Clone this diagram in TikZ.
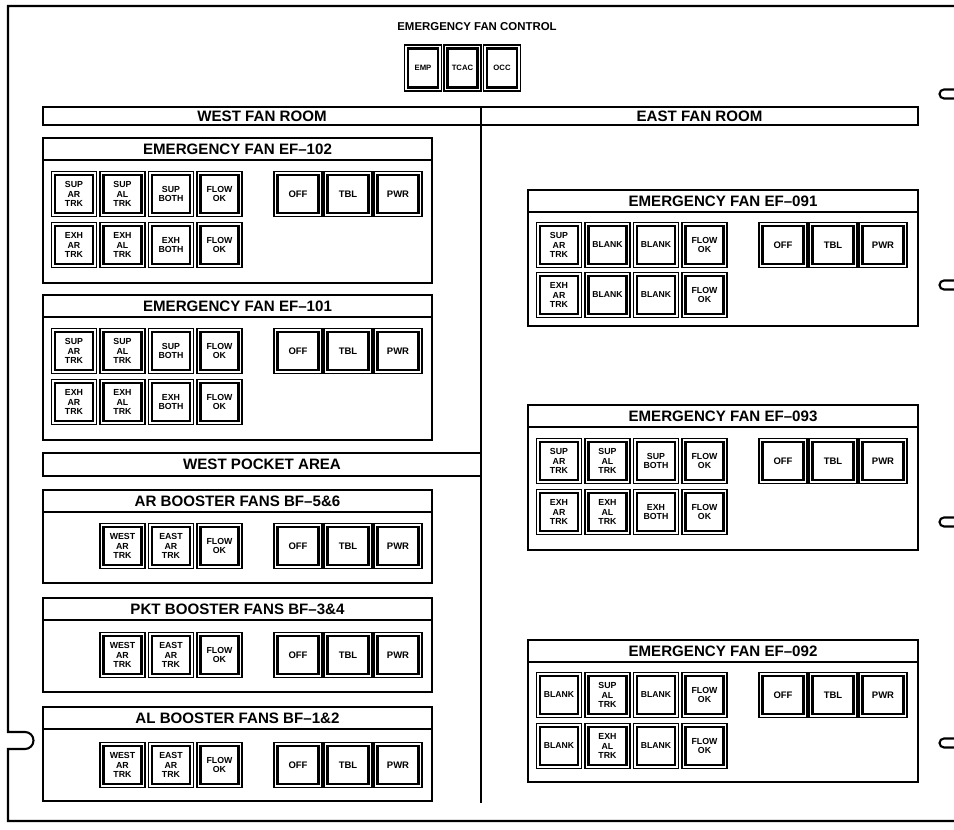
\documentclass[tikz,border=0pt]{standalone}
\usepackage{fontspec}
\setmainfont{Liberation Sans}

\tikzset{
  wall/.style={line width=1.2pt},
  heading/.style={inner sep=0pt, font=\fontsize{8.6}{9}\selectfont\bfseries},
  btn/.style={draw, line width=0.7pt, inner sep=0pt, minimum width=0.9cm, minimum height=0.9cm},
  btn in/.style={draw, line width=1.2pt, inner sep=0pt, minimum width=0.76cm, minimum height=0.76cm,
    align=center, font=\fontsize{5}{5.4}\selectfont\bfseries},
  wbtn/.style={btn, minimum width=0.96cm},
  wbtn in/.style={btn in, minimum width=0.82cm, font=\fontsize{5.4}{6}\selectfont\bfseries},
  topbtn/.style={btn, minimum width=0.74cm, minimum height=0.92cm},
  topbtn in/.style={btn in, minimum width=0.6cm, minimum height=0.78cm, font=\fontsize{4.4}{5}\selectfont\bfseries},
}

\begin{document}
\begin{tikzpicture}[x=0.02cm, y=-0.02cm]
\useasboundingbox (0,0) rectangle (954,830);

% --- Button: outer frame + inner frame with label ---
\def\fanbtn#1#2#3#4{%
  \node[#1] (#2) at #3 {};
  \node[#1 in] (#2-in) at (#2) {#4};
}

% --- Panel with header strip ---
\def\fanpanel#1#2#3#4{%
  \draw[wall] (0,0) rectangle (#2,#3);
  \draw[wall] (0,22) -- (#2,22);
  \node[heading] (#1) at ({#2/2},11) {#4};
}

% --- OFF / TBL / PWR group ---
\def\ctrlrow#1#2{%
  \foreach \lab [count=\i] in {OFF,TBL,PWR}
    {\fanbtn{wbtn}{#1-c\i}{({255+50*(\i-1)},#2)}{\lab}}
}

\def\blank{{\fontsize{4.9}{5}\selectfont BLANK}}

% --- Outer frame with notches ---
\draw[wall] (954,6) -- (8,6) -- (8,732) -- (25,732)
  arc[start angle=90, end angle=-90, radius=0.17cm] -- (8,749) -- (8,821) -- (954,821);
\foreach \ny in {94,285,522,743}
  \draw[wall] (954,{\ny-4.5}) -- (944,{\ny-4.5})
    arc[start angle=90, end angle=270, radius=0.09cm] -- (954,{\ny+4.5});

% --- Control row ---
\node[font=\fontsize{6.5}{7}\selectfont\bfseries] (efc) at (477,27) {EMERGENCY FAN CONTROL};
\foreach \lab/\bx [count=\i] in {EMP/423,TCAC/462.5,OCC/502}
  {\fanbtn{topbtn}{top\i}{(\bx,68)}{\lab}}

% --- Fan room strip and divider ---
\draw[wall] (43,107) rectangle (918,125);
\draw[wall] (481,107) -- (481,803);
\node[heading] (west) at (262,116) {WEST FAN ROOM};
\node[heading] (east) at (699.5,116) {EAST FAN ROOM};

% --- West fan room ---
\begin{scope}[shift={(43,138)}]
\fanpanel{ef102}{389}{145}{EMERGENCY FAN EF--102}
\foreach \lab [count=\i] in {{SUP\\AR\\TRK},{SUP\\AL\\TRK},{SUP\\BOTH},{FLOW\\OK}}
  {\fanbtn{btn}{ef102-s\i}{({31+48.5*(\i-1)},56)}{\lab}}
\foreach \lab [count=\i] in {{EXH\\AR\\TRK},{EXH\\AL\\TRK},{EXH\\BOTH},{FLOW\\OK}}
  {\fanbtn{btn}{ef102-e\i}{({31+48.5*(\i-1)},107)}{\lab}}
\ctrlrow{ef102}{56}
\end{scope}

\begin{scope}[shift={(43,295)}]
\fanpanel{ef101}{389}{145}{EMERGENCY FAN EF--101}
\foreach \lab [count=\i] in {{SUP\\AR\\TRK},{SUP\\AL\\TRK},{SUP\\BOTH},{FLOW\\OK}}
  {\fanbtn{btn}{ef101-s\i}{({31+48.5*(\i-1)},56)}{\lab}}
\foreach \lab [count=\i] in {{EXH\\AR\\TRK},{EXH\\AL\\TRK},{EXH\\BOTH},{FLOW\\OK}}
  {\fanbtn{btn}{ef101-e\i}{({31+48.5*(\i-1)},107)}{\lab}}
\ctrlrow{ef101}{56}
\end{scope}

% --- West pocket area ---
\draw[wall] (43,453) rectangle (481,476);
\node[heading] (pocket) at (262,464.5) {WEST POCKET AREA};

\begin{scope}[shift={(43,490)}]
\fanpanel{bf56}{389}{93}{AR BOOSTER FANS BF--5\&6}
\foreach \lab [count=\i from 2] in {{WEST\\AR\\TRK},{EAST\\AR\\TRK},{FLOW\\OK}}
  {\fanbtn{btn}{bf56-b\i}{({31+48.5*(\i-1)},56)}{\lab}}
\ctrlrow{bf56}{56}
\end{scope}

\begin{scope}[shift={(43,598)}]
\fanpanel{bf34}{389}{94}{PKT BOOSTER FANS BF--3\&4}
\foreach \lab [count=\i from 2] in {{WEST\\AR\\TRK},{EAST\\AR\\TRK},{FLOW\\OK}}
  {\fanbtn{btn}{bf34-b\i}{({31+48.5*(\i-1)},57)}{\lab}}
\ctrlrow{bf34}{57}
\end{scope}

\begin{scope}[shift={(43,707)}]
\fanpanel{bf12}{389}{94}{AL BOOSTER FANS BF--1\&2}
\foreach \lab [count=\i from 2] in {{WEST\\AR\\TRK},{EAST\\AR\\TRK},{FLOW\\OK}}
  {\fanbtn{btn}{bf12-b\i}{({31+48.5*(\i-1)},58)}{\lab}}
\ctrlrow{bf12}{58}
\end{scope}

% --- East fan room ---
\begin{scope}[shift={(528,190)}]
\fanpanel{ef091}{390}{136}{EMERGENCY FAN EF--091}
\foreach \lab [count=\i] in {{SUP\\AR\\TRK},\blank,\blank,{FLOW\\OK}}
  {\fanbtn{btn}{ef091-s\i}{({31+48.5*(\i-1)},55)}{\lab}}
\foreach \lab [count=\i] in {{EXH\\AR\\TRK},\blank,\blank,{FLOW\\OK}}
  {\fanbtn{btn}{ef091-e\i}{({31+48.5*(\i-1)},105)}{\lab}}
\ctrlrow{ef091}{55}
\end{scope}

\begin{scope}[shift={(528,405)}]
\fanpanel{ef093}{390}{145}{EMERGENCY FAN EF--093}
\foreach \lab [count=\i] in {{SUP\\AR\\TRK},{SUP\\AL\\TRK},{SUP\\BOTH},{FLOW\\OK}}
  {\fanbtn{btn}{ef093-s\i}{({31+48.5*(\i-1)},56)}{\lab}}
\foreach \lab [count=\i] in {{EXH\\AR\\TRK},{EXH\\AL\\TRK},{EXH\\BOTH},{FLOW\\OK}}
  {\fanbtn{btn}{ef093-e\i}{({31+48.5*(\i-1)},107)}{\lab}}
\ctrlrow{ef093}{56}
\end{scope}

\begin{scope}[shift={(528,640)}]
\fanpanel{ef092}{390}{142}{EMERGENCY FAN EF--092}
\foreach \lab [count=\i] in {\blank,{SUP\\AL\\TRK},\blank,{FLOW\\OK}}
  {\fanbtn{btn}{ef092-s\i}{({31+48.5*(\i-1)},55)}{\lab}}
\foreach \lab [count=\i] in {\blank,{EXH\\AL\\TRK},\blank,{FLOW\\OK}}
  {\fanbtn{btn}{ef092-e\i}{({31+48.5*(\i-1)},106)}{\lab}}
\ctrlrow{ef092}{55}
\end{scope}

\end{tikzpicture}
\end{document}
